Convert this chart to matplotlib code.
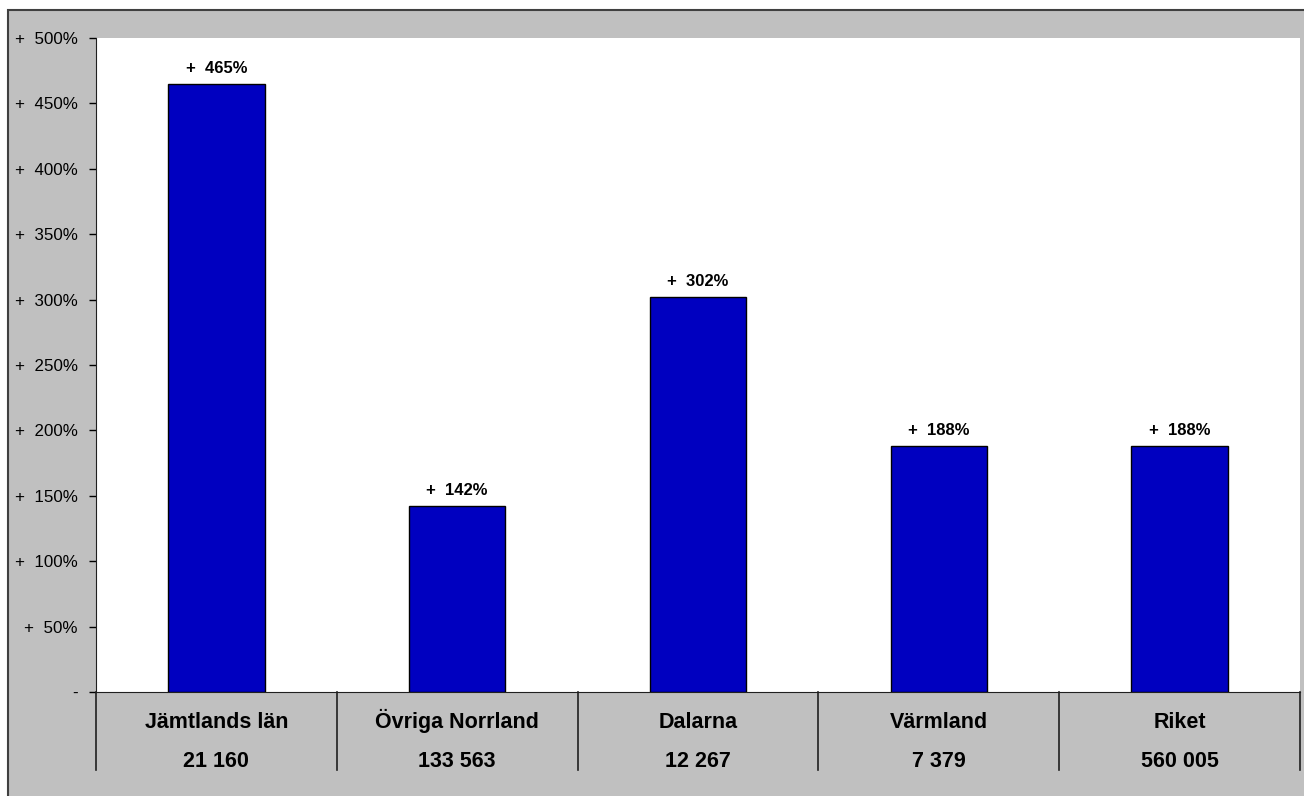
import matplotlib.pyplot as plt
import matplotlib.patches as mpatches
from matplotlib.transforms import blended_transform_factory

plt.rcParams['font.family'] = ['Liberation Sans', 'DejaVu Sans']

# data
regions = ['Jämtlands län', 'Övriga Norrland', 'Dalarna', 'Värmland', 'Riket']
counts = ['21 160', '133 563', '12 267', '7 379', '560 005']
growth = [465, 142, 302, 188, 188]
yticks = [0, 50, 100, 150, 200, 250, 300, 350, 400, 450, 500]

W, H = 1304, 796
fig = plt.figure(figsize=(W / 100, H / 100), dpi=100)
fig.patch.set_facecolor('white')

# grey chart area with dark border on left/top
bg = mpatches.Rectangle((8 / W, -0.01), 1.02, (H - 10) / H + 0.01,
                        transform=fig.transFigure, facecolor='#c0c0c0',
                        edgecolor='#404040', linewidth=1.5, zorder=-10)
fig.patches.append(bg)

left, right, top, bottom = 96, 1300, 38, 692
ax = fig.add_axes([left / W, (H - bottom) / H, (right - left) / W, (bottom - top) / H])
ax.set_facecolor('white')

x = [i + 0.5 for i in range(len(regions))]
ax.bar(x, growth, width=0.4, color='#0000c0', edgecolor='black', linewidth=1, zorder=3)
for xi, g in zip(x, growth):
    ax.annotate(f'+  {g}%', (xi, g), xytext=(0, 8), textcoords='offset points',
                ha='center', va='baseline', fontsize=12, fontweight='bold')

ax.set_xlim(0, len(regions))
ax.set_ylim(0, 500)
ax.set_yticks(yticks)
ax.set_yticklabels(['-' if v == 0 else f'+  {v}%' for v in yticks], fontsize=12.2)
ax.tick_params(axis='y', direction='out', length=5, width=1, pad=8, colors='black')
ax.set_xticks([])
for s in ['top', 'right']:
    ax.spines[s].set_visible(False)
ax.spines['left'].set_color('#202020')
ax.spines['bottom'].set_color('#202020')

# table under the bars
ah = bottom - top
trans = blended_transform_factory(ax.transData, ax.transAxes)
for i in range(len(regions) + 1):
    ax.plot([i, i], [0, -78 / ah], transform=trans, color='#202020',
            linewidth=1.2, clip_on=False)
for xi, r, c in zip(x, regions, counts):
    ax.text(xi, -36 / ah, r, transform=trans, ha='center', va='baseline',
            fontsize=15.5, fontweight='bold')
    ax.text(xi, -75 / ah, c, transform=trans, ha='center', va='baseline',
            fontsize=15.5, fontweight='bold')

fig.savefig('out.png', dpi=100)
